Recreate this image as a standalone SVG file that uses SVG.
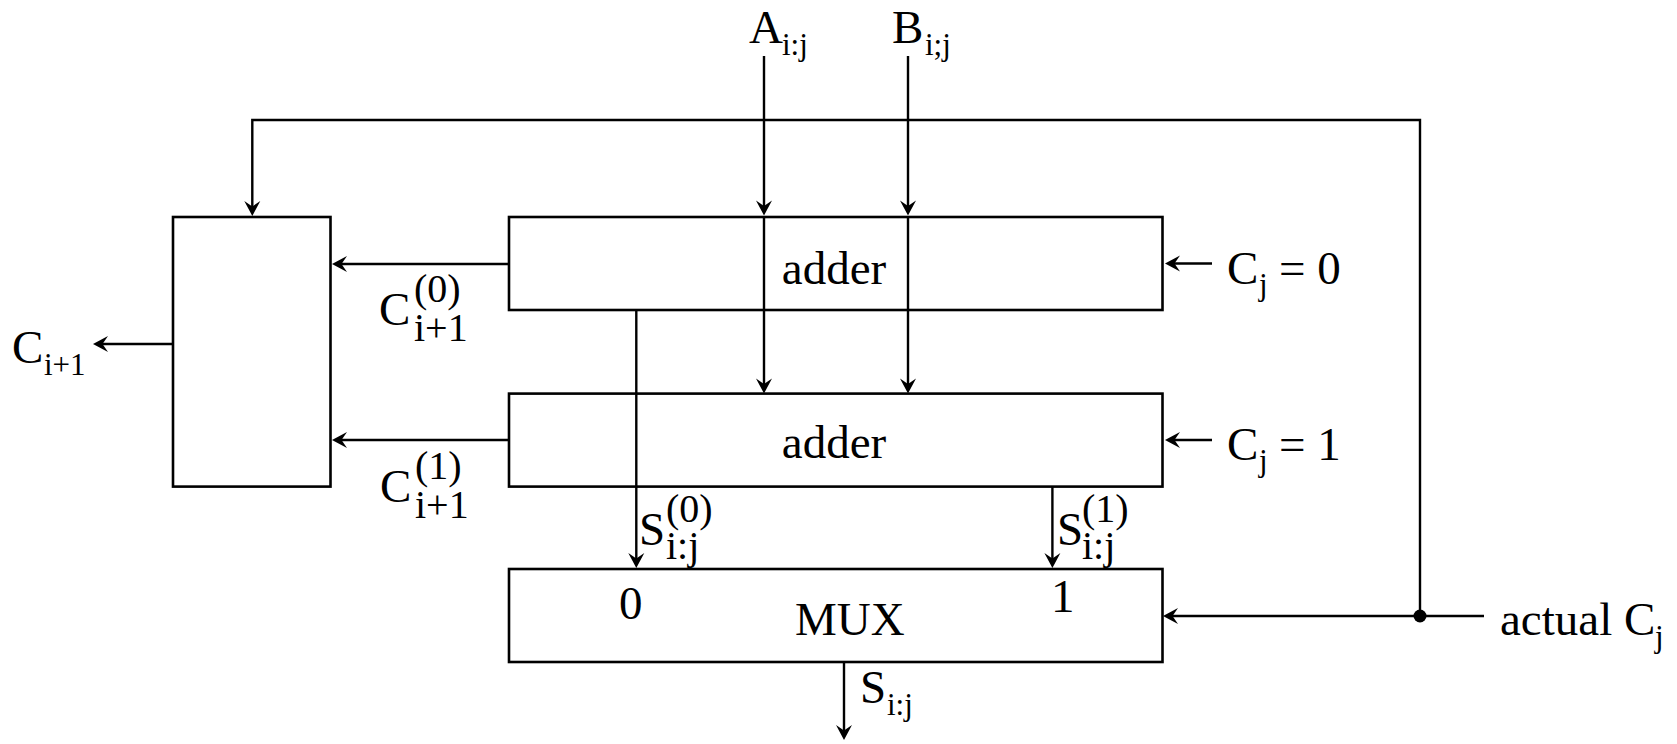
<svg xmlns="http://www.w3.org/2000/svg" width="1677" height="744" viewBox="0 0 1677 744">
  <style>
    .box { fill: #fff; stroke: #000; stroke-width: 2.6; }
    .arr { fill: none; stroke: #000; stroke-width: 2.4; marker-end: url(#head); }
    text { font-family: "Liberation Serif", "Times New Roman", serif; fill: #000; }
    .t { font-size: 47px; }
    .s { font-size: 31px; }
    .ss { font-size: 40px; }
  </style>
  <defs>
    <marker id="head" markerUnits="userSpaceOnUse" markerWidth="22" markerHeight="22" viewBox="-11 -11 22 22" refX="0" refY="0" orient="auto">
      <path d="M6,0 L-9,-8 L-3.5,0 L-9,8 Z" fill="#000"/>
    </marker>
  </defs>

  <!-- blocks -->
  <g id="carry-select">
    <rect class="box" x="173" y="217" width="157.5" height="269.6"/>
  </g>
  <g id="adder0">
    <rect class="box" x="509" y="217" width="653.5" height="93"/>
    <text class="t" x="834" y="283.5" text-anchor="middle">adder</text>
  </g>
  <g id="adder1">
    <rect class="box" x="509" y="393.6" width="653.5" height="93"/>
    <text class="t" x="834" y="458" text-anchor="middle">adder</text>
  </g>
  <g id="mux">
    <rect class="box" x="509" y="569" width="653.5" height="93"/>
    <text class="t" x="795" y="635">MUX</text>
    <text class="t" x="619" y="619">0</text>
    <text class="t" x="1051" y="612">1</text>
  </g>

  <!-- connectors -->
  <g id="connectors">
    <!-- operand inputs, passing through the first adder -->
    <line class="arr" x1="764" y1="56" x2="764" y2="209.5"/>
    <line class="arr" x1="764" y1="217" x2="764" y2="387.6"/>
    <line class="arr" x1="908" y1="56" x2="908" y2="209.5"/>
    <line class="arr" x1="908" y1="217" x2="908" y2="387.6"/>
    <!-- carry-in feedback to the select block -->
    <path class="arr" d="M1420,616 V120 H252.3 V210"/>
    <!-- actual carry into MUX -->
    <line class="arr" x1="1484" y1="616" x2="1169" y2="616"/>
    <circle cx="1420" cy="616" r="6.5" fill="#000"/>
    <!-- fixed carry inputs -->
    <line class="arr" x1="1212" y1="263.5" x2="1171" y2="263.5"/>
    <line class="arr" x1="1212" y1="440" x2="1171" y2="440"/>
    <!-- carry outputs -->
    <line class="arr" x1="509" y1="264" x2="338" y2="264"/>
    <line class="arr" x1="509" y1="440" x2="338" y2="440"/>
    <line class="arr" x1="173" y1="344" x2="99" y2="344"/>
    <!-- sums into MUX -->
    <line class="arr" x1="636.3" y1="310" x2="636.3" y2="562"/>
    <line class="arr" x1="1052.4" y1="486.6" x2="1052.4" y2="562"/>
    <!-- MUX output -->
    <line class="arr" x1="844" y1="662" x2="844" y2="734"/>
  </g>

  <!-- labels -->
  <g id="labels">
    <text class="t" x="749" y="43">A</text>
    <text class="s" x="782" y="55">i:j</text>
    <text class="t" x="892" y="43">B</text>
    <text class="s" x="925" y="55">i;j</text>

    <text class="t" x="12" y="363">C</text>
    <text class="s" x="44" y="375">i+1</text>

    <text class="t" x="379" y="325">C</text>
    <text class="ss" x="414" y="302">(0)</text>
    <text class="ss" x="414" y="341">i+1</text>

    <text class="t" x="380" y="501.5">C</text>
    <text class="ss" x="415" y="478.5">(1)</text>
    <text class="ss" x="415" y="517.5">i+1</text>

    <text class="t" x="1227" y="283.5">C</text>
    <text class="s" x="1259" y="295">j</text>
    <text class="t" x="1279" y="283.5">= 0</text>

    <text class="t" x="1227" y="459.5">C</text>
    <text class="s" x="1259" y="471">j</text>
    <text class="t" x="1279" y="459.5">= 1</text>

    <text class="t" x="639" y="545">S</text>
    <text class="ss" x="666" y="522">(0)</text>
    <text class="ss" x="666" y="559">i:j</text>

    <text class="t" x="1057" y="545">S</text>
    <text class="ss" x="1082" y="522">(1)</text>
    <text class="ss" x="1082" y="559">i:j</text>

    <text class="t" x="860" y="703">S</text>
    <text class="s" x="887" y="715">i:j</text>

    <text class="t" x="1500" y="635">actual C</text>
    <text class="s" x="1655" y="647">j</text>
  </g>
</svg>
